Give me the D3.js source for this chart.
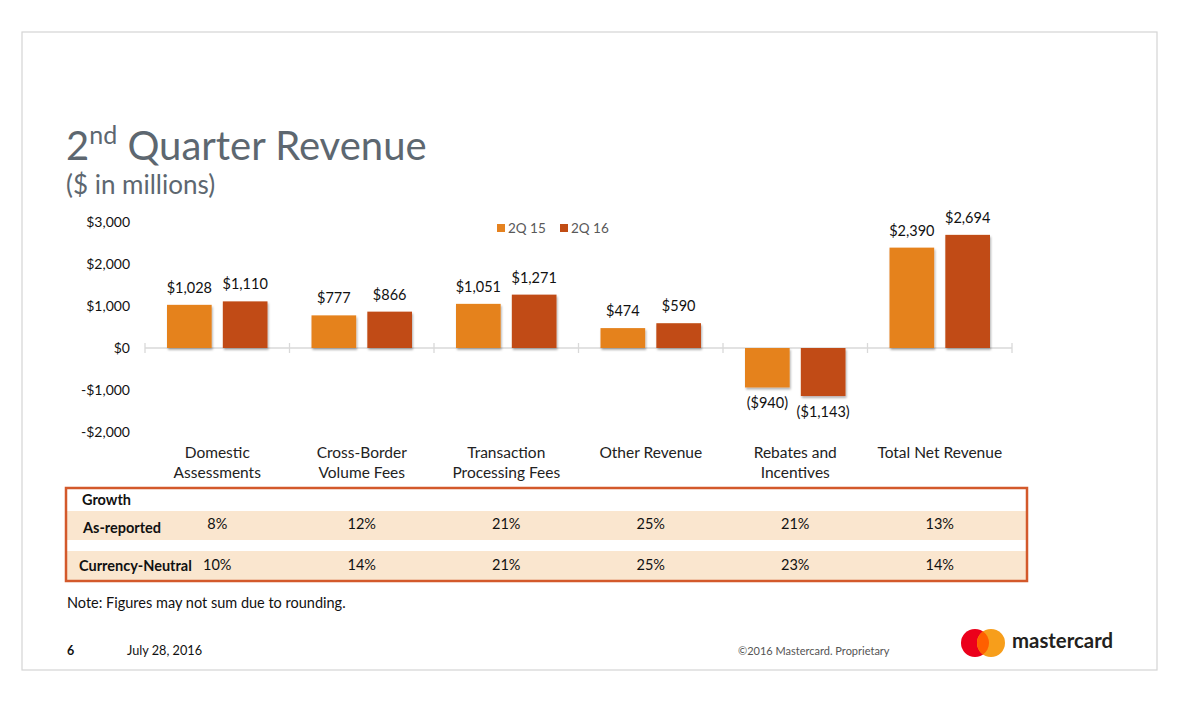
<!DOCTYPE html>
<html>
<head>
    <meta charset="utf-8">
    <title>2nd Quarter Revenue</title>
    <script src="https://d3js.org/d3.v7.min.js"></script>
    <style>
        body { margin: 0; background: #fff; }
        svg text { font-family: Lato, "Open Sans", sans-serif; }
    </style>
</head>
<body>
<div id="chart"></div>
<script>
    // Data
    var categories = [
        ["Domestic", "Assessments"],
        ["Cross-Border", "Volume Fees"],
        ["Transaction", "Processing Fees"],
        ["Other Revenue"],
        ["Rebates and", "Incentives"],
        ["Total Net Revenue"]
    ];
    var seriesNames = ["2Q 15", "2Q 16"];
    var q15 = [1028, 777, 1051, 474, -940, 2390];
    var q16 = [1110, 866, 1271, 590, -1143, 2694];
    var yTicks = [3000, 2000, 1000, 0, -1000, -2000];
    var asReported = ["8%", "12%", "21%", "25%", "21%", "13%"];
    var currencyNeutral = ["10%", "14%", "21%", "25%", "23%", "14%"];
    var colors = ["#E5821F", "#C14C14"];

    var W = 1183, H = 704;
    var svg = d3.select("#chart").append("svg")
        .attr("width", W).attr("height", H);

    var defs = svg.append("defs");
    var f = defs.append("filter").attr("id", "shadow")
        .attr("x", "-10%").attr("y", "-10%").attr("width", "130%").attr("height", "130%");
    f.append("feDropShadow").attr("dx", 1).attr("dy", 2).attr("stdDeviation", 1.2)
        .attr("flood-color", "#000").attr("flood-opacity", 0.3);

    // slide frame
    svg.append("rect")
        .attr("x", 22).attr("y", 32).attr("width", 1135).attr("height", 638)
        .attr("fill", "#fff").attr("stroke", "#d4d4d4").attr("stroke-width", 1.2);

    // title
    var title = svg.append("text")
        .attr("x", 66).attr("y", 160)
        .attr("fill", "#5d6770").attr("font-size", 40);
    title.append("tspan").text("2");
    title.append("tspan").attr("font-size", 25).attr("dy", -16).text("nd");
    title.append("tspan").attr("dy", 16).text(" Quarter Revenue");

    svg.append("text")
        .attr("x", 66).attr("y", 194)
        .attr("fill", "#5d6770").attr("font-size", 26)
        .text("($ in millions)");

    // scales
    var idx = d3.range(categories.length);
    var x = d3.scaleBand().domain(idx).range([145, 1012]);
    var x1 = d3.scaleBand().domain(seriesNames)
        .range([22, x.bandwidth() - 22]).paddingInner(0.2);
    var y = d3.scaleLinear().domain([-2000, 3000]).range([432, 222]);

    var fmtNum = d3.format(",");
    function axisFmt(v) {
        return (v < 0 ? "-$" : "$") + fmtNum(Math.abs(v));
    }
    function valFmt(v) {
        return v < 0 ? "($" + fmtNum(-v) + ")" : "$" + fmtNum(v);
    }

    // y axis labels
    svg.append("g").selectAll("text")
        .data(yTicks).enter().append("text")
        .attr("x", 130).attr("y", function(d) { return y(d) + 5; })
        .attr("text-anchor", "end").attr("font-size", 14).attr("fill", "#111")
        .text(axisFmt);

    // x axis line with boundary ticks
    var axisG = svg.append("g").attr("stroke", "#d9d9d9").attr("stroke-width", 1.3);
    axisG.append("line")
        .attr("x1", x(0)).attr("x2", x(categories.length - 1) + x.bandwidth())
        .attr("y1", y(0)).attr("y2", y(0));
    axisG.selectAll(".tk")
        .data(idx.concat([categories.length])).enter().append("line")
        .attr("x1", function(d) { return x.range()[0] + d * x.step(); })
        .attr("x2", function(d) { return x.range()[0] + d * x.step(); })
        .attr("y1", y(0) - 5).attr("y2", y(0) + 5);

    // bars
    var seriesData = [q15, q16];
    seriesNames.forEach(function(name, s) {
        var vals = seriesData[s];
        svg.append("g").selectAll("rect")
            .data(vals).enter().append("rect")
            .attr("x", function(d, i) { return x(i) + x1(name); })
            .attr("y", function(d) { return y(Math.max(0, d)); })
            .attr("width", x1.bandwidth())
            .attr("height", function(d) { return Math.abs(y(d) - y(0)); })
            .attr("fill", colors[s])
            .attr("filter", "url(#shadow)");

        svg.append("g").selectAll("text")
            .data(vals).enter().append("text")
            .attr("x", function(d, i) { return x(i) + x1(name) + x1.bandwidth() / 2; })
            .attr("y", function(d) { return d >= 0 ? y(d) - 12 : y(d) + 21; })
            .attr("text-anchor", "middle").attr("font-size", 14.5).attr("fill", "#111")
            .text(valFmt);
    });

    // category labels
    var catG = svg.append("g");
    categories.forEach(function(lines, i) {
        var t = catG.append("text")
            .attr("x", x(i) + x.bandwidth() / 2).attr("y", 458)
            .attr("text-anchor", "middle").attr("font-size", 15.5).attr("fill", "#222");
        lines.forEach(function(l, k) {
            t.append("tspan").attr("x", x(i) + x.bandwidth() / 2)
                .attr("dy", k === 0 ? 0 : 20).text(l);
        });
    });

    // legend
    var leg = svg.append("g");
    var legX = [497, 560];
    seriesNames.forEach(function(name, s) {
        leg.append("rect").attr("x", legX[s]).attr("y", 224)
            .attr("width", 8).attr("height", 8).attr("fill", colors[s]);
        leg.append("text").attr("x", legX[s] + 11).attr("y", 233)
            .attr("font-size", 13.5).attr("fill", "#595959").text(name);
    });

    // growth table
    var tbl = svg.append("g");
    tbl.append("rect").attr("x", 67).attr("y", 511).attr("width", 959).attr("height", 29)
        .attr("fill", "#FAE6CF");
    tbl.append("rect").attr("x", 67).attr("y", 551).attr("width", 959).attr("height", 29)
        .attr("fill", "#FAE6CF");
    tbl.append("rect").attr("x", 66).attr("y", 488).attr("width", 961).attr("height", 93)
        .attr("fill", "none").attr("stroke", "#D3592B").attr("stroke-width", 2.5);

    tbl.append("text").attr("x", 82).attr("y", 505)
        .attr("font-size", 14.5).attr("font-weight", 700).attr("fill", "#111").text("Growth");
    tbl.append("text").attr("x", 83).attr("y", 533)
        .attr("font-size", 14.5).attr("font-weight", 700).attr("fill", "#111").text("As-reported");
    tbl.append("text").attr("x", 79).attr("y", 571)
        .attr("font-size", 14.5).attr("font-weight", 700).attr("fill", "#111").text("Currency-Neutral");

    [[asReported, 529], [currencyNeutral, 570]].forEach(function(row) {
        tbl.append("g").selectAll("text")
            .data(row[0]).enter().append("text")
            .attr("x", function(d, i) { return x(i) + x.bandwidth() / 2; })
            .attr("y", row[1])
            .attr("text-anchor", "middle").attr("font-size", 14.5).attr("fill", "#111")
            .text(function(d) { return d; });
    });

    // footnote and footer
    svg.append("text").attr("x", 67).attr("y", 608)
        .attr("font-size", 14.5).attr("fill", "#111")
        .text("Note: Figures may not sum due to rounding.");
    svg.append("text").attr("x", 67).attr("y", 655)
        .attr("font-size", 12.5).attr("font-weight", 700).attr("fill", "#111").text("6");
    svg.append("text").attr("x", 127).attr("y", 655)
        .attr("font-size", 12.7).attr("fill", "#111").text("July 28, 2016");
    svg.append("text").attr("x", 738).attr("y", 655)
        .attr("font-size", 11).attr("fill", "#555").text("\u00A92016 Mastercard. Proprietary");

    // logo
    var logo = svg.append("g");
    logo.append("circle").attr("cx", 975).attr("cy", 643).attr("r", 14).attr("fill", "#EB001B");
    logo.append("circle").attr("cx", 991).attr("cy", 643).attr("r", 14).attr("fill", "#F79E1B");
    // overlap lens of the two circles
    var lens = "M983,631.5 A14,14 0 0,1 983,654.5 A14,14 0 0,1 983,631.5 Z";
    logo.append("path").attr("d", lens).attr("fill", "#FF5F00");
    logo.append("text").attr("x", 1012).attr("y", 648)
        .attr("font-size", 20).attr("font-weight", 700).attr("fill", "#231f20")
        .attr("textLength", 101).attr("lengthAdjust", "spacingAndGlyphs").text("mastercard");
</script>
</body>
</html>
